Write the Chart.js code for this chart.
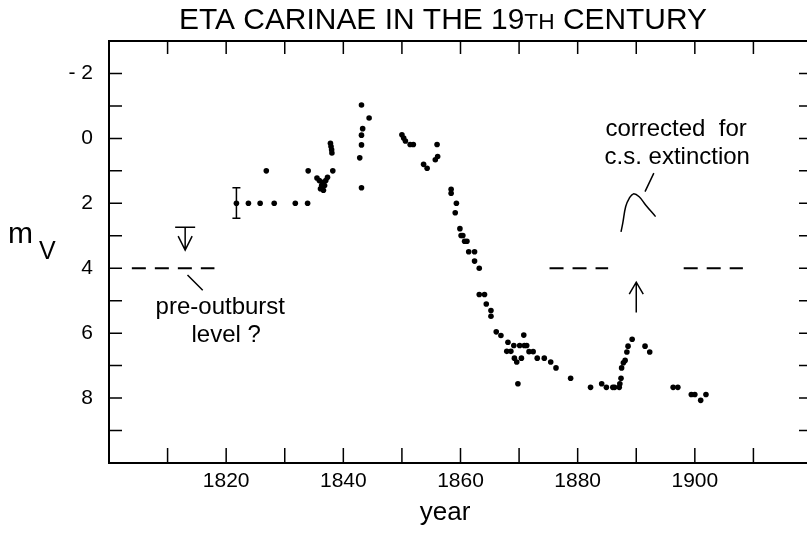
<!DOCTYPE html>
<html>
<head>
<meta charset="utf-8">
<script src="https://cdn.jsdelivr.net/npm/chart.js@4.4.1/dist/chart.umd.min.js"></script>
<style>
  html, body { margin: 0; padding: 0; background: #fff; overflow: hidden; }
</style>
</head>
<body>
<canvas id="grafico" width="818" height="533"></canvas>
<script>
// observed visual magnitudes of Eta Carinae
const obsYear = [1821.75, 1823.8, 1825.8, 1826.85, 1828.2, 1831.8, 1833.9, 1834.0,
  1835.5, 1835.9, 1836.1, 1836.3, 1836.4, 1836.6, 1836.8, 1837.0, 1837.3,
  1837.8, 1837.9, 1838.0, 1838.05, 1838.2,
  1842.8, 1843.1, 1843.1, 1843.1, 1843.1, 1843.3, 1844.4,
  1850.0, 1850.3, 1850.6, 1851.4, 1851.95, 1853.7, 1854.3, 1855.7, 1856.0, 1856.1,
  1858.4, 1858.4, 1859.1, 1859.3, 1859.9, 1860.1, 1860.4, 1860.7, 1861.1, 1861.4,
  1862.4, 1862.4, 1863.2, 1863.2, 1864.1, 1864.4, 1865.2, 1865.2, 1866.1, 1866.9,
  1867.9, 1868.1, 1868.6, 1869.1, 1869.2, 1869.6, 1869.8, 1870.1, 1870.4, 1870.8,
  1870.9, 1871.3, 1871.7, 1872.4, 1873.1, 1874.3, 1875.4, 1876.3, 1878.8,
  1882.2, 1884.1, 1884.9, 1886.0, 1886.3, 1887.1, 1887.2, 1887.4, 1887.5, 1887.8,
  1888.1, 1888.4, 1888.6, 1889.3, 1891.5, 1892.3,
  1896.3, 1897.1, 1899.4, 1900.0, 1901.0, 1901.9];
const obsMag = [2.0, 2.0, 2.0, 1.0, 2.0, 2.0, 2.0, 1.0,
  1.22, 1.3, 1.55, 1.45, 1.35, 1.6, 1.45, 1.3, 1.2,
  0.15, 0.25, 0.35, 0.45, 1.0,
  0.6, -1.03, -0.1, 0.2, 1.52, -0.3, -0.63,
  -0.11, -0.01, 0.08, 0.19, 0.19, 0.8, 0.92, 0.66, 0.19, 0.56,
  1.57, 1.69, 2.29, 2.0, 2.78, 2.99, 2.99, 3.17, 3.17, 3.49,
  3.49, 3.78, 4.0, 4.81, 4.81, 5.1, 5.3, 5.48, 5.96, 6.07,
  6.56, 6.28, 6.56, 6.38, 6.77, 6.89, 7.56, 6.38, 6.77, 6.06,
  6.38, 6.38, 6.57, 6.57, 6.77, 6.77, 6.89, 7.07, 7.39,
  7.67, 7.56, 7.67, 7.67, 7.67, 7.67, 7.56, 7.39, 7.07, 6.91,
  6.84, 6.58, 6.40, 6.19, 6.40, 6.58,
  7.67, 7.67, 7.89, 7.89, 8.07, 7.89];

// error bar on the first point: [year, low, high]
const errBar = [1821.75, 1.52, 2.46];
// upper limit before the outburst: [year, bar mag, arrow tip mag]
const upperLimit = [1813.0, 2.74, 3.44];

// dashed "level 4" segments
const preLevelYears = [1803.9, 1818.0];
const lateLevelYearsA = [1875.2, 1885.2];
const lateLevelYearsB = [1898.1, 1908.2];
const levelMag = 4.0;

// 1890 event corrected for circumstellar extinction
const corrYear = [1887.4, 1887.7, 1888.2, 1888.8, 1889.5, 1890.5, 1891.6, 1893.3];
const corrMag = [2.88, 2.61, 2.10, 1.85, 1.71, 1.80, 2.05, 2.41];
// arrow at 1890: [year, from mag, to mag]
const corrArrow = [1890.0, 5.36, 4.43];

const xTickLabels = [1820, 1840, 1860, 1880, 1900];
const yTickLabels = [-2, 0, 2, 4, 6, 8];

const FONT = '"Liberation Sans", Arial, Helvetica, sans-serif';

function pares(xs, ys) {
  return xs.map((x, i) => ({ x: x, y: ys[i] }));
}

const extras = {
  id: 'extras',
  afterDatasetsDraw(chart) {
    const ctx = chart.ctx;
    const a = chart.chartArea;
    const sx = chart.scales.x, sy = chart.scales.y;
    const X = v => sx.getPixelForValue(v);
    const Y = v => sy.getPixelForValue(v);
    ctx.save();
    ctx.strokeStyle = '#000';
    ctx.fillStyle = '#000';

    // frame
    ctx.lineWidth = 2;
    ctx.strokeRect(a.left, a.top, a.right - a.left, a.bottom - a.top);

    // inward ticks on all four sides
    ctx.lineWidth = 1.5;
    ctx.beginPath();
    for (let yr = 1810; yr < 1920; yr += 10) {
      ctx.moveTo(X(yr), a.bottom); ctx.lineTo(X(yr), a.bottom - 15);
      ctx.moveTo(X(yr), a.top); ctx.lineTo(X(yr), a.top + 13);
    }
    for (let m = -2; m < 10; m++) {
      ctx.moveTo(a.left, Y(m)); ctx.lineTo(a.left + 13, Y(m));
      ctx.moveTo(a.right, Y(m)); ctx.lineTo(a.right - 13, Y(m));
    }
    ctx.stroke();

    // error bar
    ctx.beginPath();
    const ex = X(errBar[0]);
    ctx.moveTo(ex, Y(errBar[1])); ctx.lineTo(ex, Y(errBar[2]));
    ctx.moveTo(ex - 4, Y(errBar[1])); ctx.lineTo(ex + 4, Y(errBar[1]));
    ctx.moveTo(ex - 4, Y(errBar[2])); ctx.lineTo(ex + 4, Y(errBar[2]));
    ctx.stroke();

    // upper limit with arrow
    const ux = X(upperLimit[0]), ub = Y(upperLimit[1]), ut = Y(upperLimit[2]);
    ctx.beginPath();
    ctx.moveTo(ux - 10, ub); ctx.lineTo(ux + 10, ub);
    ctx.moveTo(ux, ub); ctx.lineTo(ux, ut);
    ctx.moveTo(ux - 7, ut - 14); ctx.lineTo(ux, ut); ctx.lineTo(ux + 7, ut - 14);
    ctx.stroke();

    // upward arrow at 1890
    const ax = X(corrArrow[0]), a0 = Y(corrArrow[1]), a1 = Y(corrArrow[2]);
    ctx.beginPath();
    ctx.moveTo(ax, a0); ctx.lineTo(ax, a1);
    ctx.moveTo(ax - 7, a1 + 12); ctx.lineTo(ax, a1); ctx.lineTo(ax + 7, a1 + 12);
    ctx.stroke();

    // leader lines
    ctx.beginPath();
    ctx.moveTo(X(1813.4), Y(4.21)); ctx.lineTo(X(1816.0), Y(4.68));
    ctx.moveTo(X(1893.0), Y(1.07)); ctx.lineTo(X(1891.5), Y(1.64));
    ctx.stroke();

    // annotation texts
    ctx.textAlign = 'center';
    ctx.textBaseline = 'middle';
    ctx.font = '24px ' + FONT;
    ctx.fillText('pre-outburst', X(1819.0), Y(5.2));
    ctx.fillText('level ?', X(1820.0), Y(6.07));
    ctx.fillText('corrected  for', X(1896.8), Y(-0.29));
    ctx.fillText('c.s. extinction', X(1897.0), Y(0.57));

    // title with small-caps "TH"
    const big = '29px ' + FONT, small = '22px ' + FONT;
    const parts = [['ETA CARINAE IN THE 19', big], ['TH', small], [' CENTURY', big]];
    let w = 0;
    parts.forEach(p => { ctx.font = p[1]; w += ctx.measureText(p[0]).width; });
    const alvo = 528, esc = alvo / w;
    ctx.save();
    ctx.translate(443 - alvo / 2, 29);
    ctx.scale(esc, 1);
    ctx.textAlign = 'left';
    ctx.textBaseline = 'alphabetic';
    let cx = 0;
    parts.forEach(p => { ctx.font = p[1]; ctx.fillText(p[0], cx, 0); cx += ctx.measureText(p[0]).width; });
    ctx.restore();

    // axis titles
    ctx.textAlign = 'left';
    ctx.textBaseline = 'alphabetic';
    ctx.font = '30px ' + FONT;
    ctx.fillText('m', 8, 243);
    ctx.font = '25px ' + FONT;
    ctx.fillText('V', 39, 259);
    ctx.textAlign = 'center';
    ctx.textBaseline = 'middle';
    ctx.font = '26px ' + FONT;
    ctx.fillText('year', 445, 513);
    ctx.restore();
  }
};

new Chart(document.getElementById('grafico'), {
  type: 'scatter',
  data: {
    datasets: [{
      label: 'observed',
      data: pares(obsYear, obsMag),
      pointRadius: 2.8,
      pointBackgroundColor: '#000',
      pointBorderWidth: 0,
      showLine: false
    }, {
      label: 'pre-outburst level',
      data: pares(preLevelYears, [levelMag, levelMag]),
      showLine: true, pointRadius: 0,
      borderColor: '#000', borderWidth: 2, borderDash: [14, 9]
    }, {
      label: 'level A',
      data: pares(lateLevelYearsA, [levelMag, levelMag]),
      showLine: true, pointRadius: 0,
      borderColor: '#000', borderWidth: 2, borderDash: [14, 9]
    }, {
      label: 'level B',
      data: pares(lateLevelYearsB, [levelMag, levelMag]),
      showLine: true, pointRadius: 0,
      borderColor: '#000', borderWidth: 2, borderDash: [14, 9]
    }, {
      label: 'corrected',
      data: pares(corrYear, corrMag),
      showLine: true, pointRadius: 0, tension: 0.4,
      borderColor: '#000', borderWidth: 1.5
    }]
  },
  options: {
    responsive: false,
    animation: false,
    devicePixelRatio: 1,
    layout: { padding: { top: 41, right: 2, left: 0, bottom: 0 } },
    plugins: { legend: { display: false }, tooltip: { enabled: false }, title: { display: false } },
    scales: {
      x: {
        type: 'linear', min: 1800, max: 1920,
        grid: { display: false, drawTicks: false },
        border: { display: false },
        afterFit: s => { s.height = 70; },
        ticks: {
          stepSize: 10, autoSkip: false, maxRotation: 0, padding: 6,
          color: '#000', font: { family: FONT, size: 21 },
          callback: v => xTickLabels.includes(v) ? String(v) : ''
        }
      },
      y: {
        type: 'linear', min: -3, max: 10, reverse: true,
        grid: { display: false, drawTicks: false },
        border: { display: false },
        afterFit: s => { s.width = 109; },
        ticks: {
          stepSize: 1, autoSkip: false, padding: 16,
          color: '#000', font: { family: FONT, size: 21 },
          callback: v => yTickLabels.includes(v) ? (v < 0 ? '- ' + Math.abs(v) : String(v)) : ''
        }
      }
    }
  },
  plugins: [extras]
});
</script>
</body>
</html>
